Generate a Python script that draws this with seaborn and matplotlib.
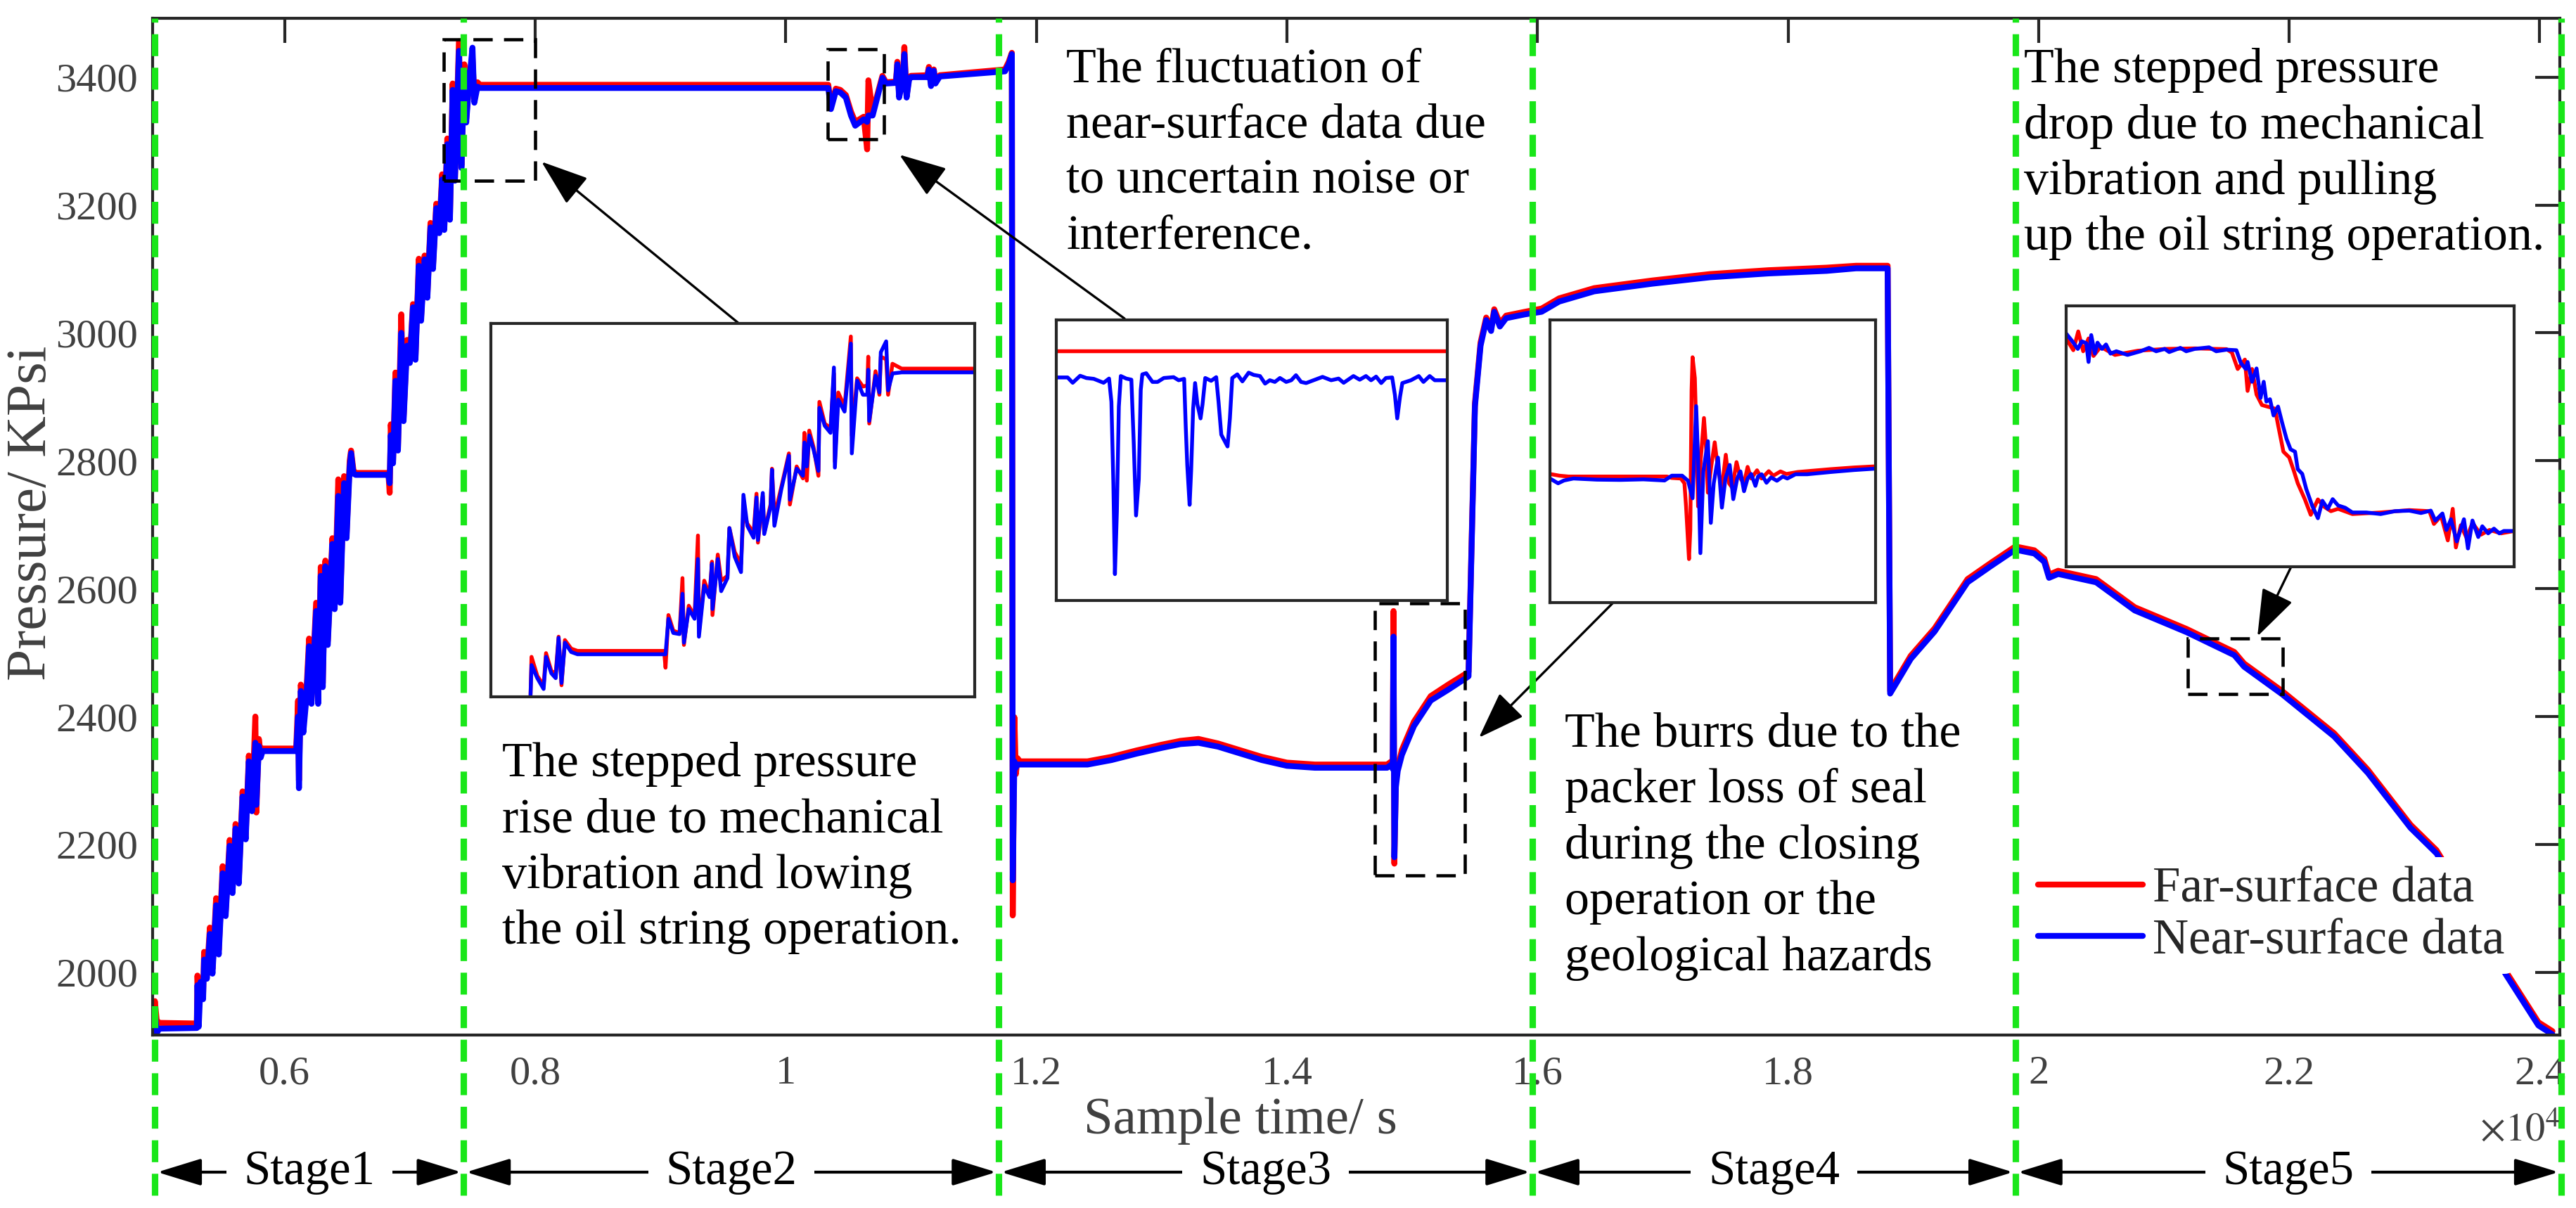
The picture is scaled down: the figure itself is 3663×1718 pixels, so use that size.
import numpy as np
import pandas as pd
import seaborn as sns
import matplotlib.pyplot as plt
import matplotlib.transforms as mtransforms
from matplotlib.patches import Rectangle

# ---- main record (sample time, far-surface / near-surface pressure) ----
time_s = [4950, 4965, 4980, 5000, 5300, 5305, 5315, 5330, 5350, 5358, 5380, 5404, 5425, 5454, 5475,
          5506, 5530, 5562, 5585, 5609, 5635, 5665, 5690, 5715, 5740, 5767, 5775, 5795, 5810, 5825,
          6093, 6108, 6115, 6130, 6150, 6175, 6196, 6215, 6252, 6268, 6289, 6305, 6326, 6345, 6382,
          6400, 6429, 6445, 6475, 6495, 6520, 6531, 6550, 6568, 6829, 6839, 6848, 6866, 6885, 6905,
          6932, 6950, 6978, 7000, 7025, 7045, 7072, 7090, 7118, 7140, 7165, 7185, 7211, 7235, 7258,
          7275, 7299, 7320, 7342, 7360, 7392, 7412, 7435, 7450, 7475, 7500, 7515, 7540, 7560,
          10340, 10361, 10400, 10436, 10480, 10521, 10555, 10622, 10650, 10660, 10694, 10772, 10800,
          10880, 10891, 10905, 10935, 10947, 10965, 10985, 11000, 11130, 11143, 11160, 11182, 11195,
          11230, 11750, 11780, 11805, 11812, 11825, 11837, 11850, 11870,
          12409, 12600, 12800, 13000, 13150, 13294, 13450, 13600, 13800, 14000, 14224, 14800, 14835,
          14845, 14851, 14858, 14870, 14885, 14918, 15014, 15148, 15288, 15428, 15450, 15501, 15546,
          15591, 15630, 15655, 15700, 15750, 15900, 16033, 16173, 16453, 16918, 17378, 17843, 18308,
          18543, 18795, 18815, 18867, 18979, 19170, 19433, 19624, 19814, 19966, 20045, 20083, 20156,
          20459, 20767, 21181, 21562, 21640, 21943, 22358, 22627, 22968, 23176, 23450, 23728, 23989,
          24101]
far_kpsi = [1915, 1955, 1925, 1921, 1920, 1995, 1945, 1990, 1965, 2032, 1995, 2070, 2005, 2116, 2035,
            2166, 2095, 2207, 2130, 2232, 2145, 2283, 2215, 2339, 2258, 2400, 2250, 2365, 2340, 2350,
            2350, 2425, 2300, 2450, 2385, 2440, 2522, 2425, 2578, 2425, 2634, 2452, 2644, 2518, 2679,
            2575, 2771, 2585, 2776, 2685, 2800, 2816, 2785, 2781, 2781, 2750, 2857, 2800, 2938, 2820,
            3029, 2868, 2989, 2958, 3045, 2962, 3116, 3025, 3121, 3060, 3172, 3105, 3202, 3160, 3248,
            3165, 3304, 3182, 3390, 3243, 3456, 3262, 3420, 3335, 3400, 3430, 3365, 3392, 3388,
            3388, 3355, 3382, 3380, 3372, 3346, 3330, 3338, 3287, 3395, 3345, 3402, 3392,
            3393, 3424, 3372, 3400, 3447, 3370, 3400, 3402, 3403, 3416, 3388, 3412, 3392,
            3403, 3412, 3424, 3438, 2089, 2399, 2310, 2335, 2330,
            2330, 2337, 2347, 2356, 2362, 2365, 2358, 2349, 2337, 2328, 2325, 2325, 2330,
            2320, 2565, 2170, 2300, 2320, 2348, 2392, 2432, 2450, 2467, 2470, 2890, 2985,
            3024, 3007, 3037, 3015, 3027, 3033, 3038, 3054, 3070, 3082, 3092, 3098, 3102,
            3105, 3105, 2440, 2458, 2495, 2538, 2615, 2641, 2666, 2660, 2647, 2622, 2628,
            2615, 2571, 2537, 2501, 2483, 2440, 2374, 2317, 2231, 2191, 2103, 2002, 1922,
            1908]
near_kpsi = [1910, 1940, 1905, 1912, 1913, 1980, 1915, 1985, 1958, 2020, 1990, 2060, 1998, 2105, 2028,
             2155, 2088, 2198, 2124, 2225, 2139, 2275, 2208, 2330, 2252, 2359, 2262, 2354, 2336, 2346,
             2346, 2400, 2288, 2440, 2375, 2430, 2510, 2420, 2565, 2420, 2620, 2446, 2635, 2512, 2670,
             2568, 2745, 2578, 2765, 2679, 2790, 2812, 2780, 2778, 2778, 2765, 2840, 2796, 2925, 2816,
             3000, 2862, 2980, 2953, 3040, 2958, 3105, 3019, 3115, 3055, 3165, 3100, 3195, 3156, 3240,
             3161, 3295, 3177, 3380, 3238, 3441, 3258, 3410, 3329, 3395, 3446, 3360, 3385, 3383,
             3383, 3350, 3378, 3376, 3368, 3340, 3324, 3334, 3330, 3340, 3340, 3399, 3390,
             3391, 3420, 3368, 3395, 3436, 3368, 3396, 3400, 3400, 3412, 3386, 3410, 3390,
             3401, 3409, 3420, 3436, 2144, 2330, 2320, 2325, 2325,
             2325, 2332, 2342, 2351, 2357, 2359, 2353, 2344, 2332, 2323, 2320, 2320, 2325,
             2318, 2525, 2180, 2290, 2315, 2340, 2385, 2425, 2442, 2460, 2463, 2885, 2980,
             3020, 3003, 3033, 3010, 3023, 3029, 3033, 3049, 3065, 3077, 3087, 3093, 3097,
             3101, 3101, 2436, 2453, 2490, 2533, 2610, 2636, 2661, 2655, 2642, 2617, 2623,
             2610, 2566, 2532, 2496, 2478, 2435, 2369, 2312, 2226, 2186, 2098, 1997, 1917,
             1903]

# ---- zoomed windows (values in % of the window) ----
z1_t = [8.2, 8.4, 9.6, 10.9, 11.4, 12.5, 13.4, 14.0, 14.6, 15.3, 16.6, 17.9, 35.8, 36.1, 36.7, 37.7,
        39.0, 39.6, 39.9, 40.9, 42.1, 42.8, 43.0, 44.1, 45.2, 45.7, 45.8, 46.9, 47.6, 48.9, 49.3, 50.4,
        51.7, 52.2, 53.0, 54.3, 54.9, 55.2, 56.2, 56.5, 57.8, 58.1, 58.6, 60.0, 61.6, 61.8, 63.2, 64.5,
        64.8, 65.3, 65.8, 66.7, 67.7, 67.9, 69.0, 70.2, 70.9, 71.1, 71.8, 73.1, 74.4, 74.6, 75.7, 76.9,
        77.8, 78.0, 78.2, 79.5, 80.3, 80.6, 81.7, 82.1, 83.0, 84.9, 100]
z1_far = [0.5, 10.7, 5.6, 3.1, 11.7, 6.9, 6.3, 16.1, 3.1, 15.2, 12.9, 12.3, 12.3, 7.8, 21.9, 17.7,
          17.1, 31.8, 13.9, 24.4, 21.6, 43.2, 17.1, 31.1, 27.3, 36.2, 21.9, 38.1, 31.1, 32.4, 45.2, 38.8,
          35.6, 49.6, 46.4, 43.9, 54.4, 41.3, 53.8, 43.9, 51.5, 61.1, 48.3, 56.0, 65.2, 51.5, 61.7, 58.5,
          70.7, 57.9, 71.3, 66.8, 59.2, 79.0, 73.2, 71.9, 86.6, 63.0, 81.5, 77.7, 96.5, 70.0, 85.3, 83.1,
          83.4, 91.1, 73.2, 87.2, 80.9, 91.1, 90.4, 80.9, 89.2, 87.9, 87.9]
z1_near = [0.5, 8.5, 5.0, 2.1, 10.7, 6.3, 5.0, 15.8, 3.7, 14.5, 12.0, 11.4, 11.4, 11.4, 20.9, 17.1,
           16.8, 27.6, 14.5, 23.5, 20.9, 36.9, 16.1, 29.8, 26.7, 35.6, 23.5, 36.9, 28.3, 31.8, 45.2, 37.5,
           33.4, 54.1, 45.8, 42.6, 53.4, 42.0, 54.6, 43.6, 50.9, 60.8, 45.8, 55.4, 64.6, 52.8, 61.1, 59.2,
           68.1, 61.7, 70.0, 66.2, 60.5, 77.4, 72.6, 70.7, 88.2, 61.4, 79.6, 76.4, 94.6, 65.2, 84.7, 80.9,
           80.9, 87.6, 73.9, 86.0, 81.5, 92.3, 95.2, 82.1, 86.6, 86.9, 86.9]

z2_far_t = [0, 100]
z2_far = [88.9, 88.9]
z2_t = [0, 2.9, 4.2, 6.1, 7.7, 9.6, 12.1, 13.5, 14.1, 14.6, 15.0, 15.5, 16.0, 16.5, 17.9, 19.2, 19.8,
        20.4, 21.1, 21.6, 22.0, 23.0, 24.6, 25.9, 27.5, 30.0, 31.3, 32.7, 33.1, 33.5, 34.1, 34.5, 35.0,
        35.5, 36.1, 36.9, 37.4, 38.1, 39.6, 40.9, 41.5, 42.2, 43.8, 44.4, 45.0, 46.3, 47.6, 49.2, 50.5,
        52.1, 53.4, 54.6, 55.9, 57.2, 58.8, 60.1, 61.3, 62.6, 63.9, 65.8, 68.1, 70.3, 72.2, 73.5, 76.0,
        77.6, 79.2, 80.5, 81.8, 83.1, 84.3, 85.9, 86.6, 87.2, 87.9, 88.5, 90.7, 92.7, 93.9, 95.5, 96.8, 100]
z2_near = [79.5, 79.5, 77.6, 80.1, 79.3, 79.0, 77.6, 79.1, 70.8, 41.6, 9.4, 31.6, 69.1, 80.0, 79.1, 78.7,
           56.6, 30.3, 43.2, 75.0, 80.6, 81.0, 77.9, 77.9, 79.3, 79.6, 78.5, 79.0, 62.4, 48.2, 34.1, 46.6,
           68.3, 77.5, 69.9, 64.9, 69.9, 79.3, 78.3, 79.6, 70.8, 59.1, 54.9, 64.9, 79.3, 80.6, 78.1, 81.2,
           80.4, 80.0, 77.3, 78.5, 77.9, 79.3, 77.9, 78.5, 80.3, 77.9, 77.5, 78.5, 79.7, 78.5, 79.1, 77.6,
           80.0, 78.7, 80.0, 78.5, 79.8, 77.5, 79.3, 79.5, 73.3, 64.9, 72.5, 77.5, 78.5, 80.0, 77.9, 80.0,
           78.5, 78.5]

z3_far_t = [0, 2.9, 5.7, 35.9, 37.4, 40.2, 41.3, 41.8, 42.7, 43.1, 43.5, 43.8, 44.5, 45.1, 45.5, 46.3,
            47.3, 48.0, 48.5, 49.6, 50.6, 51.7, 52.8, 54.0, 55.0, 56.0, 57.3, 58.5, 59.6, 60.7, 61.8,
            63.6, 65.0, 67.2, 68.6, 70.8, 72.6, 76.1, 86.2, 93.4, 100]
z3_far = [45.5, 44.9, 44.6, 44.6, 44.1, 43.9, 42.2, 34.0, 15.4, 25.7, 75.2, 86.8, 79.4, 53.8, 34.0, 50.5,
          65.3, 53.8, 38.9, 48.8, 56.7, 46.4, 40.6, 52.3, 42.2, 40.6, 49.7, 43.9, 42.2, 48.0, 43.9,
          46.8, 43.9, 46.5, 44.9, 46.4, 45.5, 46.2, 47.2, 47.8, 48.2]
z3_near_t = [0, 2.5, 4.3, 7.2, 14.4, 21.6, 28.7, 35.2, 37.4, 40.6, 42.4, 43.8, 44.9, 45.5, 46.2, 47.1,
             48.5, 49.4, 50.3, 51.6, 52.8, 53.9, 55.2, 56.3, 57.5, 58.5, 59.6, 60.7, 61.8, 63.1, 63.9,
             65.0, 66.5, 67.9, 69.7, 71.5, 72.9, 75.4, 79.0, 86.2, 93.4, 100]
z3_near = [43.9, 42.2, 43.2, 43.9, 43.5, 43.4, 43.6, 43.2, 44.9, 44.9, 43.1, 36.9, 69.5, 50.5, 17.5, 46.4,
           57.1, 28.2, 42.2, 51.3, 33.6, 43.9, 48.7, 36.6, 43.9, 46.4, 39.4, 43.9, 45.5, 41.3, 44.6,
           45.4, 42.4, 44.3, 43.1, 44.6, 43.9, 45.4, 45.4, 46.2, 46.9, 47.4]

z4_far_t = [0, 1.6, 2.7, 3.8, 5.0, 6.1, 7.7, 10.9, 16.0, 22.4, 28.7, 35.8, 37.0, 38.3, 39.9, 40.5, 41.5,
            42.5, 43.7, 44.7, 46.6, 47.3, 48.5, 49.8, 50.8, 51.7, 53.3, 54.6, 56.2, 57.5, 59.1, 60.7,
            63.9, 70.2, 76.6, 81.1, 82.1, 83.7, 85.2, 86.3, 87.0, 88.1, 89.4, 90.7, 92.6, 94.5, 97.1, 100]
z4_far = [87.5, 83.0, 90.2, 82.6, 87.5, 80.8, 84.3, 81.2, 82.8, 83.5, 83.7, 83.4, 82.1, 75.8, 79.4, 67.4,
          75.8, 66.0, 62.0, 61.5, 60.6, 54.4, 44.1, 41.9, 36.9, 32.0, 25.8, 19.9, 25.8, 23.1, 21.3, 22.2,
          20.2, 20.8, 21.7, 21.3, 16.4, 19.5, 10.1, 22.2, 7.4, 15.9, 11.0, 16.8, 12.3, 14.1, 12.8, 13.7]
z4_near_t = [0, 1.3, 2.6, 3.5, 4.5, 5.0, 5.6, 6.4, 7.0, 8.0, 8.9, 9.9, 11.2, 13.7, 16.6, 18.5, 20.1,
             22.0, 23.0, 25.5, 26.8, 28.7, 31.9, 33.5, 35.8, 38.0, 39.0, 40.1, 40.5, 41.5, 42.5, 43.4,
             44.1, 44.7, 45.5, 46.3, 47.3, 48.2, 49.2, 50.1, 51.1, 51.7, 52.7, 53.6, 54.9, 56.2, 57.2,
             58.4, 59.5, 60.7, 62.3, 63.9, 67.0, 70.2, 73.4, 76.6, 79.2, 81.4, 82.4, 84.0, 84.9, 85.9,
             87.2, 88.8, 89.7, 90.7, 92.0, 92.9, 94.2, 95.5, 96.7, 97.7, 100]
z4_near = [89.4, 86.6, 83.5, 86.4, 85.7, 78.5, 88.8, 81.7, 85.9, 83.5, 85.2, 81.7, 82.6, 81.2, 82.6, 83.9,
           82.6, 83.5, 82.3, 83.9, 82.6, 83.5, 84.1, 82.6, 83.2, 83.0, 78.1, 75.8, 78.5, 70.9, 76.0, 64.7,
           70.9, 63.3, 64.2, 58.0, 61.4, 55.3, 49.0, 45.0, 44.1, 37.4, 35.6, 29.8, 23.5, 18.6, 25.3,
           22.2, 25.9, 23.5, 22.6, 20.8, 20.8, 20.2, 21.3, 21.5, 20.6, 21.5, 17.7, 20.4, 14.1, 18.2,
           9.7, 18.2, 7.0, 17.7, 11.4, 15.5, 12.8, 14.6, 12.8, 13.7, 13.7]

# ---- stages, marked regions, notes ----
stage_edges = [4965, 7430, 11700, 15960, 19815, 24170]
stage_names = ['Stage1', 'Stage2', 'Stage3', 'Stage4', 'Stage5']
marked_regions = [(7272, 8000, 3238, 3459), (10336, 10784, 3303, 3444),
                  (14700, 15423, 2152, 2577), (21193, 21949, 2435, 2522)]
notes = ['The stepped pressure\nrise due to mechanical\nvibration and lowing\nthe oil string operation.',
         'The fluctuation of\nnear-surface data due\nto uncertain noise or\ninterference.',
         'The burrs due to the\npacker loss of seal\nduring the closing\noperation or the\ngeological hazards',
         'The stepped pressure\ndrop due to mechanical\nvibration and pulling\nup the oil string operation.']

sns.set_theme(style='white')
plt.rcParams['font.family'] = ['Liberation Serif', 'DejaVu Serif']
plt.rcParams['mathtext.fontset'] = 'stix'

RED, BLUE, GREEN = '#ff0000', '#0000ff', '#19e619'
GREY, DARK = '#404040', '#262626'

W, H = 3663, 1718
fig = plt.figure(figsize=(W / 300, H / 300), dpi=300)
ax = fig.add_axes([217 / W, 1 - 1472 / H, (3640 - 217) / W, (1472 - 26) / H])

df = pd.DataFrame({'time': time_s, 'far': far_kpsi, 'near': near_kpsi})
sns.lineplot(data=df, x='time', y='far', color=RED, lw=2, sort=False, ax=ax, label='Far-surface data')
sns.lineplot(data=df, x='time', y='near', color=BLUE, lw=2, sort=False, ax=ax, label='Near-surface data')

ax.set_xlim(4947, 24160)
ax.set_ylim(1902, 3492)
ax.set_xticks(np.arange(6000, 24001, 2000))
ax.set_xticklabels([f'{v / 1e4:g}' for v in np.arange(6000, 24001, 2000)])
ax.set_yticks(np.arange(2000, 3401, 200))
ax.set_xlabel('')
ax.set_ylabel('')
ax.tick_params(direction='in', length=8.4, width=1, top=True, right=True,
               color=DARK, labelcolor=GREY, labelsize=14)
ax.tick_params(axis='x', pad=7)
ax.tick_params(axis='y', pad=5)
for s in ax.spines.values():
    s.set_color(DARK)
    s.set_linewidth(1)

fig.text(0.0125, 0.575, 'Pressure/ KPsi', rotation=90, ha='center', va='center', fontsize=19.5, color=GREY)
fig.text(1764 / W, 1 - 1594 / H, 'Sample time/ s', ha='center', va='center', fontsize=18, color=GREY)
fig.text(3583 / W, 1 - 1609 / H, r'$\times10^{4}$', ha='center', va='center', fontsize=13.5, color=GREY)

leg = ax.legend(loc='center left', bbox_to_anchor=(2884 / W, 1 - 1302 / H), bbox_transform=fig.transFigure,
                fontsize=17, handlelength=2.1, handletextpad=0.2, borderpad=0.2, labelspacing=0.12,
                borderaxespad=0, frameon=True, facecolor='white', edgecolor='none', framealpha=1)

# stage dividers
for x in stage_edges:
    ax.axvline(x, ymin=-0.158, ymax=1.0, clip_on=False, color=GREEN, lw=2.2,
               dashes=(3.4, 1.8), zorder=6)

trans = mtransforms.blended_transform_factory(ax.transData, fig.transFigure)
ys = 1 - 1667 / H
for x0, x1, name in zip(stage_edges[:-1], stage_edges[1:], stage_names):
    ax.annotate('', xy=(x1 - 20, ys), xytext=(x0 + 20, ys), xycoords=trans, textcoords=trans,
                annotation_clip=False,
                arrowprops=dict(arrowstyle='<|-|>,head_length=0.65,head_width=0.2', mutation_scale=20,
                                lw=1.0, color='black', shrinkA=0, shrinkB=0))
    ax.text((x0 + x1) / 2, ys, name, transform=trans, ha='center', va='center', fontsize=16.5,
            color='black', zorder=7, bbox=dict(fc='white', ec='none', pad=6))

# dashed boxes on the main trace
for x0, x1, y0, y1 in marked_regions:
    ax.add_patch(Rectangle((x0, y0), x1 - x0, y1 - y0, fill=False, ec='black', lw=1.1,
                           ls=(0, (6, 3.5)), zorder=4))

# arrows from zoom windows to boxes (figure pixel positions)
arrow_pairs = [((1058, 466), (770, 230)), ((1599, 453), (1279, 220)),
               ((2294, 857), (2103, 1049)), ((3258, 806), (3210, 905))]
for (sx, sy), (ex, ey) in arrow_pairs:
    ax.annotate('', xy=(ex / W, 1 - ey / H), xytext=(sx / W, 1 - sy / H),
                xycoords='figure fraction', textcoords='figure fraction', annotation_clip=False,
                arrowprops=dict(arrowstyle='-|>,head_length=0.7,head_width=0.25', mutation_scale=20,
                                lw=0.8, color='black', shrinkA=0, shrinkB=0))

# zoom windows
inset_px = [(698, 460, 1386, 991), (1502, 455, 2058, 854), (2204, 455, 2667, 857), (2938, 435, 3575, 806)]
inset_lines = [[(z1_t, z1_far, RED), (z1_t, z1_near, BLUE)],
               [(z2_far_t, z2_far, RED), (z2_t, z2_near, BLUE)],
               [(z3_far_t, z3_far, RED), (z3_near_t, z3_near, BLUE)],
               [(z4_far_t, z4_far, RED), (z4_near_t, z4_near, BLUE)]]
for (l, t, r, b), lines in zip(inset_px, inset_lines):
    iax = fig.add_axes([l / W, 1 - b / H, (r - l) / W, (b - t) / H])
    for xs, vals, col in lines:
        sns.lineplot(x=xs, y=vals, color=col, lw=1.3, sort=False, ax=iax)
    iax.set_xlim(0, 100)
    iax.set_ylim(0, 100)
    iax.set_xticks([])
    iax.set_yticks([])
    iax.set_facecolor('white')
    for s in iax.spines.values():
        s.set_color(DARK)
        s.set_linewidth(1)

# notes
note_pos = [(714, 1055), (1516, 68), (2225, 1013), (2878, 68)]
for (nx, ny), txt in zip(note_pos, notes):
    fig.text(nx / W, 1 - ny / H, txt, ha='left', va='top', fontsize=16.8, linespacing=1.32, color='black')

fig.savefig('out.png', dpi=300)
